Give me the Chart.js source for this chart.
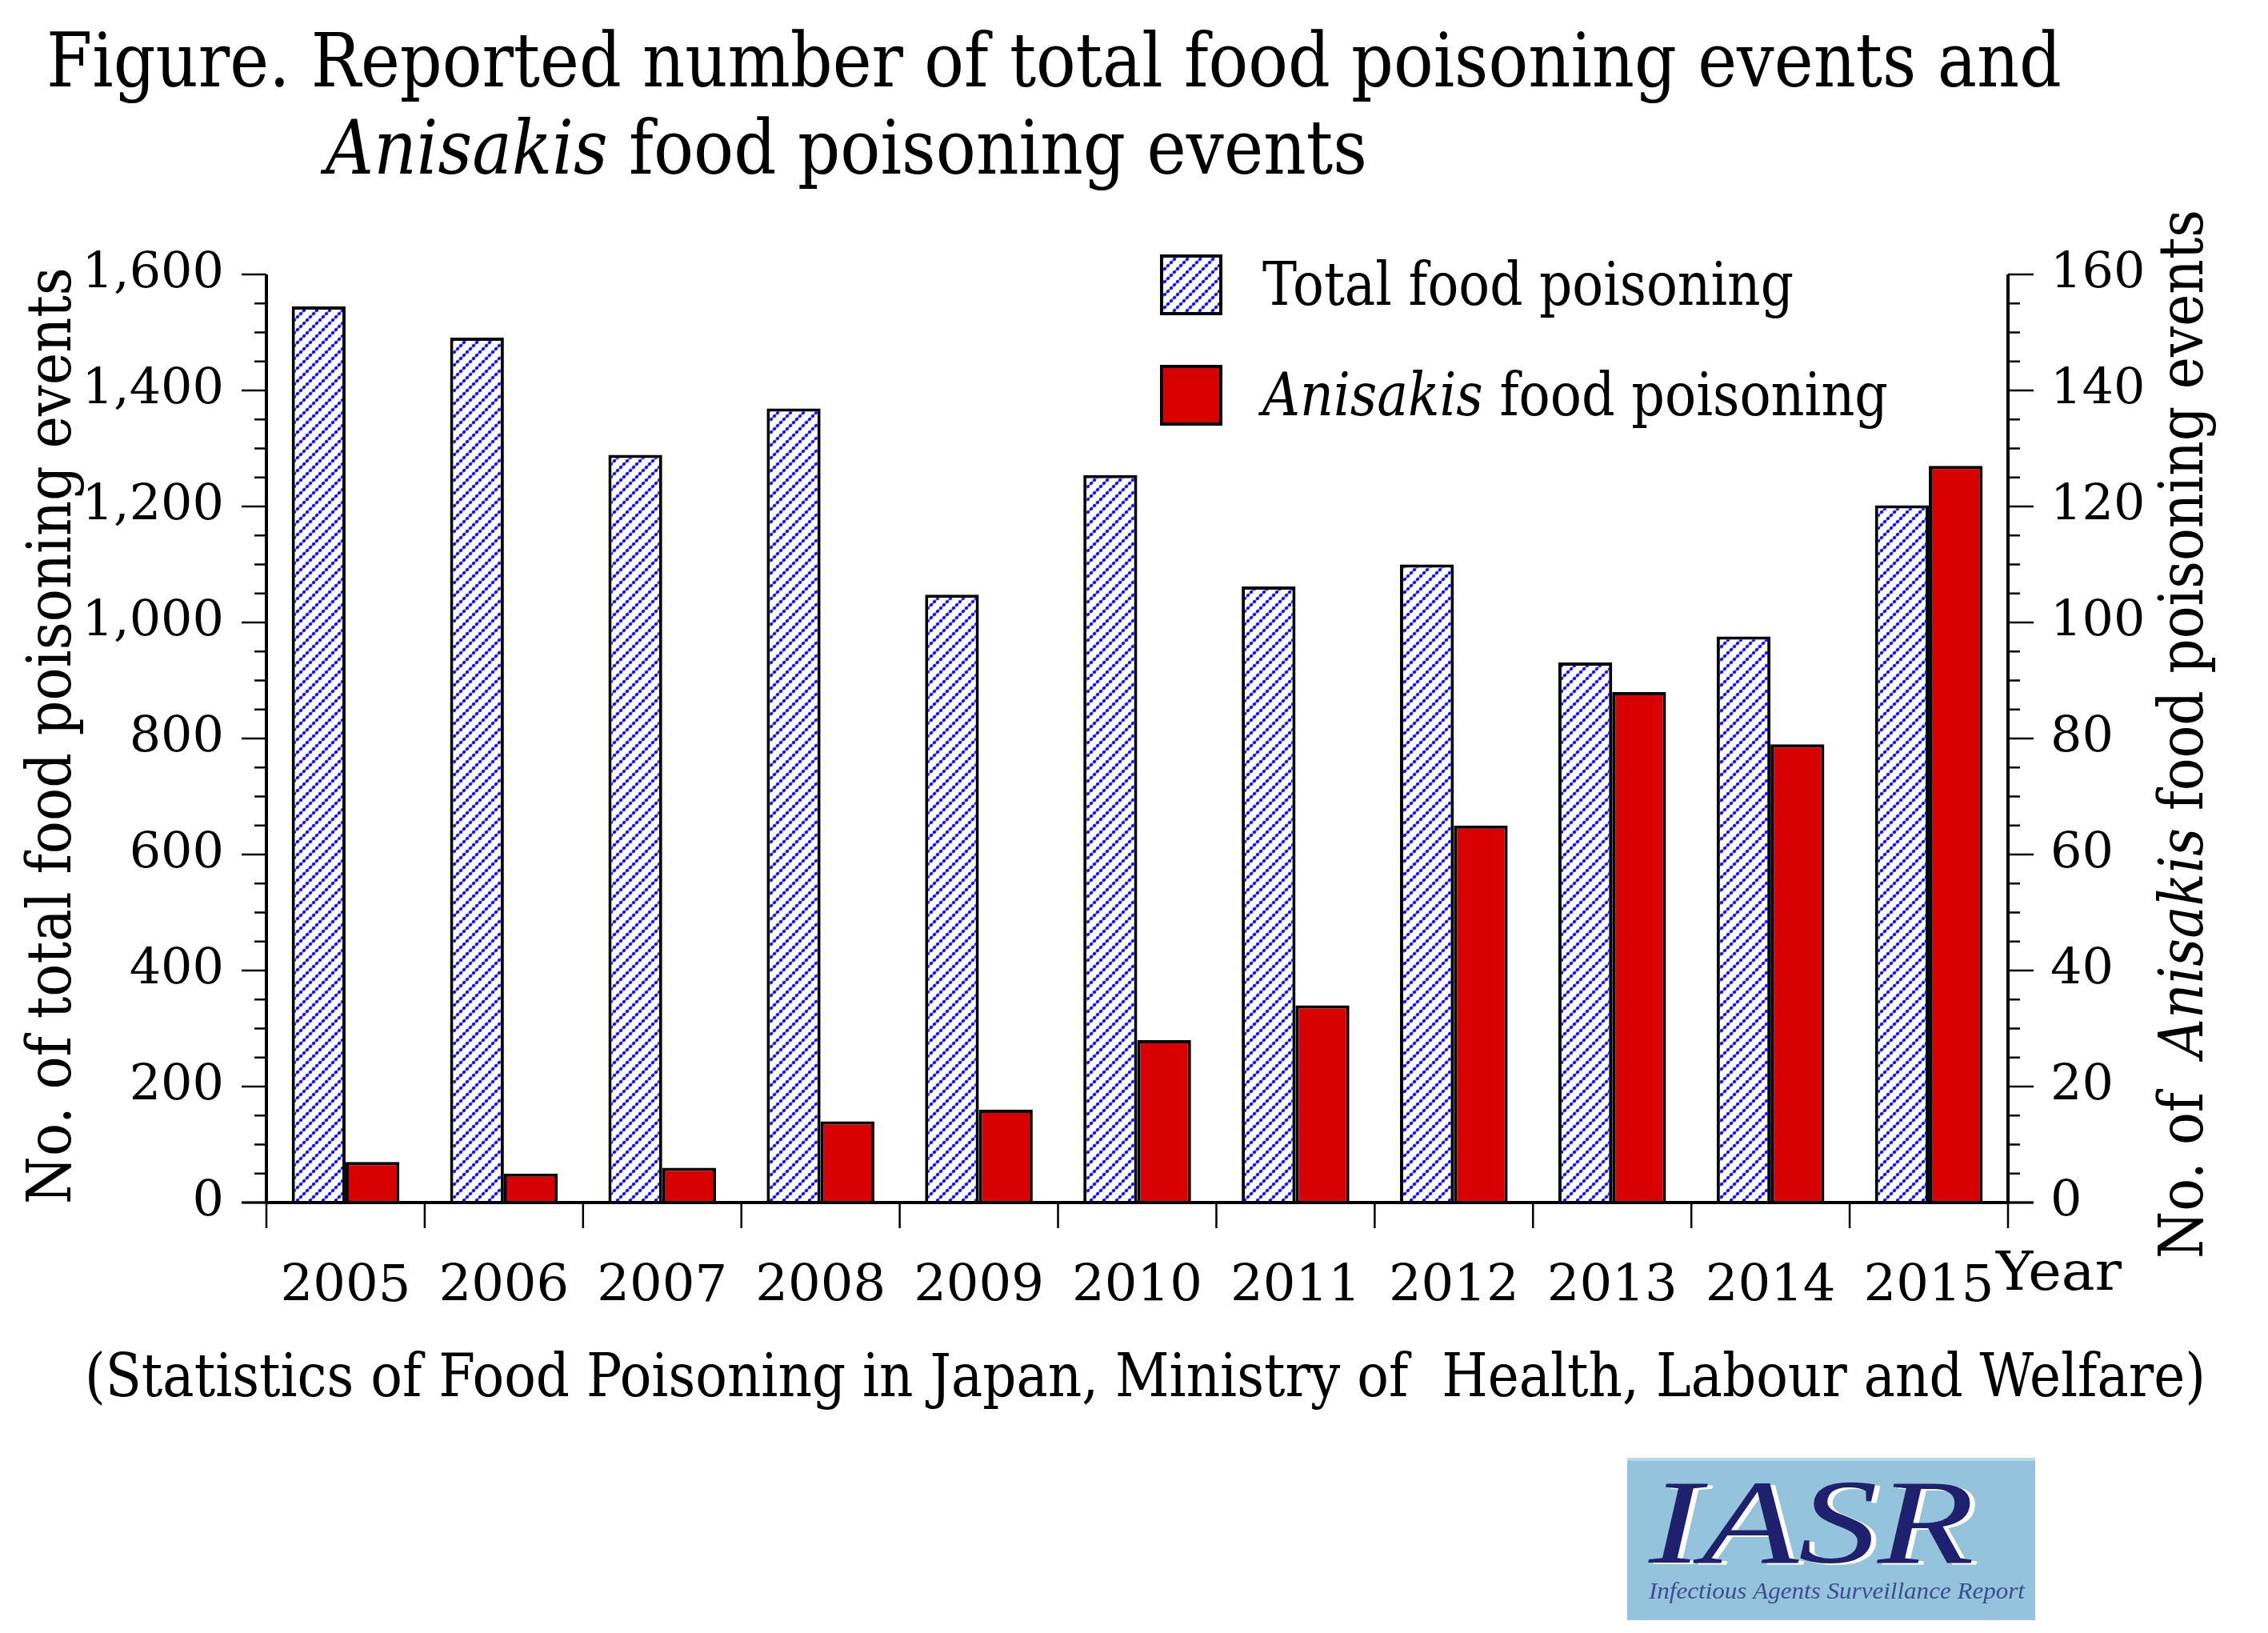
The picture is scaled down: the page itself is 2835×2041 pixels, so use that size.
<!DOCTYPE html>
<html>
<head>
<meta charset="utf-8">
<script src="https://cdn.jsdelivr.net/npm/chart.js@4.4.0/dist/chart.umd.min.js"></script>
<style>
html,body{margin:0;padding:0;background:#fff;overflow:hidden}
#wrap{position:relative;width:2835px;height:2041px}
</style>
</head>
<body>
<div id="wrap"><canvas id="c" width="2835" height="2041"></canvas></div>
<script>
// ---------------- data ----------------
const years = ['2005','2006','2007','2008','2009','2010','2011','2012','2013','2014','2015'];
const totalEvents = [1545,1491,1289,1369,1048,1254,1062,1100,931,976,1202];
const anisakisEvents = [7,5,6,14,16,28,34,65,88,79,127];
const leftAxisMax = 1600, leftAxisStep = 200, leftMinorStep = 50;
const rightAxisMax = 160, rightAxisStep = 20, rightMinorStep = 5;
const titleLine1 = [['Figure. Reported number of total food poisoning events and', false]];
const titleLine2 = [['Anisakis', true], [' food poisoning events', false]];
const leftAxisTitle = [['No. of total food poisoning events', false]];
const rightAxisTitle = [['No. of  ', false], ['Anisakis', true], [' food poisoning events', false]];
const legendLabels = [[['Total food poisoning', false]], [['Anisakis', true], [' food poisoning', false]]];
const xAxisUnit = 'Year';
const sourceNote = '(Statistics of Food Poisoning in Japan, Ministry of  Health, Labour and Welfare)';
const logoText = 'IASR';
const logoSub = 'Infectious Agents Surveillance Report';

const FONT = '"DejaVu Serif", "Liberation Serif", serif';
const RED = '#d80000';

const canvas = document.getElementById('c');
const ctx0 = canvas.getContext('2d');

function makeHatch(ctx) {
  const n = 16;
  const c = document.createElement('canvas'); c.width = n; c.height = n;
  const g = c.getContext('2d');
  g.fillStyle = '#ffffff'; g.fillRect(0, 0, n, n);
  g.strokeStyle = 'rgba(90,90,255,0.7)'; g.lineWidth = 2.6;
  g.beginPath(); g.moveTo(-3, n + 3); g.lineTo(n + 3, -3); g.stroke();
  g.beginPath(); g.moveTo(-3, 3); g.lineTo(3, -3); g.stroke();
  g.beginPath(); g.moveTo(n - 3, n + 3); g.lineTo(n + 3, n - 3); g.stroke();
  g.fillStyle = '#0a0aff';
  const k = 4;
  const pts = [[0,0],[n,0],[0,n],[n,n]];
  for (let i = 1; i < k; i++) pts.push([i * n / k, n - i * n / k]);
  pts.forEach(p => { g.beginPath(); g.arc(p[0], p[1], 2.1, 0, Math.PI * 2); g.fill(); });
  return ctx.createPattern(c, 'repeat');
}
const hatch = makeHatch(ctx0);

function drawFit(ctx, segs, x, y, size, width, rot) {
  ctx.save();
  ctx.translate(x, y);
  if (rot) ctx.rotate(rot);
  const fonts = segs.map(s => (s[1] ? 'italic ' : '') + size + 'px ' + FONT);
  let nat = 0;
  segs.forEach((s, i) => { ctx.font = fonts[i]; nat += ctx.measureText(s[0]).width; });
  const sx = width ? width / nat : 1;
  ctx.scale(sx, 1);
  ctx.textBaseline = 'alphabetic'; ctx.textAlign = 'left'; ctx.fillStyle = '#000';
  let cx = 0;
  segs.forEach((s, i) => { ctx.font = fonts[i]; ctx.fillText(s[0], cx, 0); cx += ctx.measureText(s[0]).width; });
  ctx.restore();
}

const decorations = {
  id: 'decorations',
  afterDraw(chart) {
    const ctx = chart.ctx;
    const a = chart.chartArea;
    const ys = chart.scales.y, y1 = chart.scales.y1, xs = chart.scales.x;
    ctx.save();
    ctx.strokeStyle = '#000';
    ctx.lineCap = 'butt';
    // axis lines
    ctx.lineWidth = 4;
    ctx.beginPath();
    ctx.moveTo(a.left, a.top); ctx.lineTo(a.left, a.bottom);
    ctx.moveTo(a.right, a.top); ctx.lineTo(a.right, a.bottom);
    ctx.moveTo(a.left, a.bottom); ctx.lineTo(a.right, a.bottom);
    ctx.stroke();
    // ticks
    ctx.lineWidth = 2.5;
    ctx.beginPath();
    for (let v = 0; v <= leftAxisMax; v += leftMinorStep) {
      const py = ys.getPixelForValue(v);
      const len = (v % leftAxisStep === 0) ? 31 : 15;
      ctx.moveTo(a.left - len, py); ctx.lineTo(a.left, py);
    }
    for (let v = 0; v <= rightAxisMax; v += rightMinorStep) {
      const py = y1.getPixelForValue(v);
      const len = (v % rightAxisStep === 0) ? 32 : 15;
      ctx.moveTo(a.right, py); ctx.lineTo(a.right + len, py);
    }
    const step = xs.getPixelForValue(1) - xs.getPixelForValue(0);
    for (let i = 0; i <= years.length; i++) {
      const px = xs.getPixelForValue(0) - step / 2 + i * step;
      ctx.moveTo(px, a.bottom); ctx.lineTo(px, a.bottom + 32);
    }
    ctx.stroke();
    ctx.lineWidth = 3;
    ctx.beginPath();
    ctx.moveTo(a.left - 31, a.bottom); ctx.lineTo(a.right + 32, a.bottom);
    ctx.stroke();

    // titles
    drawFit(ctx, titleLine1, 58, 108, 94, 2519);
    drawFit(ctx, titleLine2, 407, 217, 94, 1302);
    // axis titles
    drawFit(ctx, leftAxisTitle, 88, 1505, 76, 1171, -Math.PI / 2);
    drawFit(ctx, rightAxisTitle, 2753, 1573, 76, 1311, -Math.PI / 2);
    // x unit
    drawFit(ctx, [[xAxisUnit, false]], 2495, 1612, 68, 157);
    // source
    drawFit(ctx, [[sourceNote, false]], 106, 1745, 74, 2651);

    // legend
    const boxes = [[1450, 318, hatch], [1450, 456, RED]];
    boxes.forEach(b => {
      ctx.fillStyle = b[2];
      ctx.fillRect(b[0], b[1], 78, 76);
      ctx.lineWidth = 4; ctx.strokeStyle = '#000';
      ctx.strokeRect(b[0] + 2, b[1] + 2, 74, 72);
    });
    drawFit(ctx, legendLabels[0], 1578, 381, 74, 664);
    drawFit(ctx, legendLabels[1], 1578, 519, 74, 782);

    // logo
    ctx.fillStyle = '#94c4dc';
    ctx.fillRect(2034, 1822, 510, 203);
    ctx.fillStyle = '#b9d8e8';
    ctx.fillRect(2034, 1822, 510, 4);
    ctx.save();
    ctx.font = 'italic 150px "Liberation Serif", serif';
    const lw = ctx.measureText(logoText).width;
    ctx.translate(2061, 1953);
    ctx.scale(407 / lw, 1);
    ctx.fillStyle = '#ffffff';
    ctx.fillText(logoText, 5, 2);
    ctx.fillStyle = '#1f206e';
    ctx.fillText(logoText, 0, 0);
    ctx.restore();
    ctx.save();
    ctx.font = 'italic 30px "Liberation Serif", serif';
    const sw = ctx.measureText(logoSub).width;
    ctx.translate(2061, 1998);
    ctx.scale(470 / sw, 1);
    ctx.fillStyle = '#3c4c8c';
    ctx.fillText(logoSub, 0, 0);
    ctx.restore();

    ctx.restore();
  }
};

new Chart(canvas, {
  type: 'bar',
  data: {
    labels: years,
    datasets: [
      {
        label: 'Total food poisoning',
        data: totalEvents,
        yAxisID: 'y',
        backgroundColor: hatch,
        borderColor: '#000',
        borderWidth: 4,
        borderSkipped: 'start',
        categoryPercentage: 0.68,
        barPercentage: 1.0
      },
      {
        label: 'Anisakis food poisoning',
        data: anisakisEvents,
        yAxisID: 'y1',
        backgroundColor: RED,
        borderColor: '#000',
        borderWidth: 4,
        borderSkipped: 'start',
        categoryPercentage: 0.68,
        barPercentage: 1.0
      }
    ]
  },
  options: {
    responsive: false,
    animation: false,
    devicePixelRatio: 1,
    layout: { padding: { top: 343, left: 0, right: 0, bottom: 0 } },
    plugins: { legend: { display: false }, title: { display: false }, tooltip: { enabled: false } },
    scales: {
      x: {
        type: 'category',
        offset: true,
        grid: { display: false },
        border: { display: false },
        ticks: { color: '#000', font: { family: FONT, size: 64 }, padding: 60, maxRotation: 0, autoSkip: false },
        afterFit: s => { s.height = 538; }
      },
      y: {
        position: 'left',
        min: 0, max: leftAxisMax,
        grid: { display: false },
        border: { display: false },
        ticks: { stepSize: leftAxisStep, color: '#000', font: { family: FONT, size: 62 }, padding: 45,
          callback: v => v.toLocaleString('en-US') },
        afterFit: s => { s.width = 333; }
      },
      y1: {
        position: 'right',
        min: 0, max: rightAxisMax,
        grid: { display: false },
        border: { display: false },
        ticks: { stepSize: rightAxisStep, color: '#000', font: { family: FONT, size: 62 }, padding: 45 },
        afterFit: s => { s.width = 325; }
      }
    }
  },
  plugins: [decorations]
});
</script>
</body>
</html>
